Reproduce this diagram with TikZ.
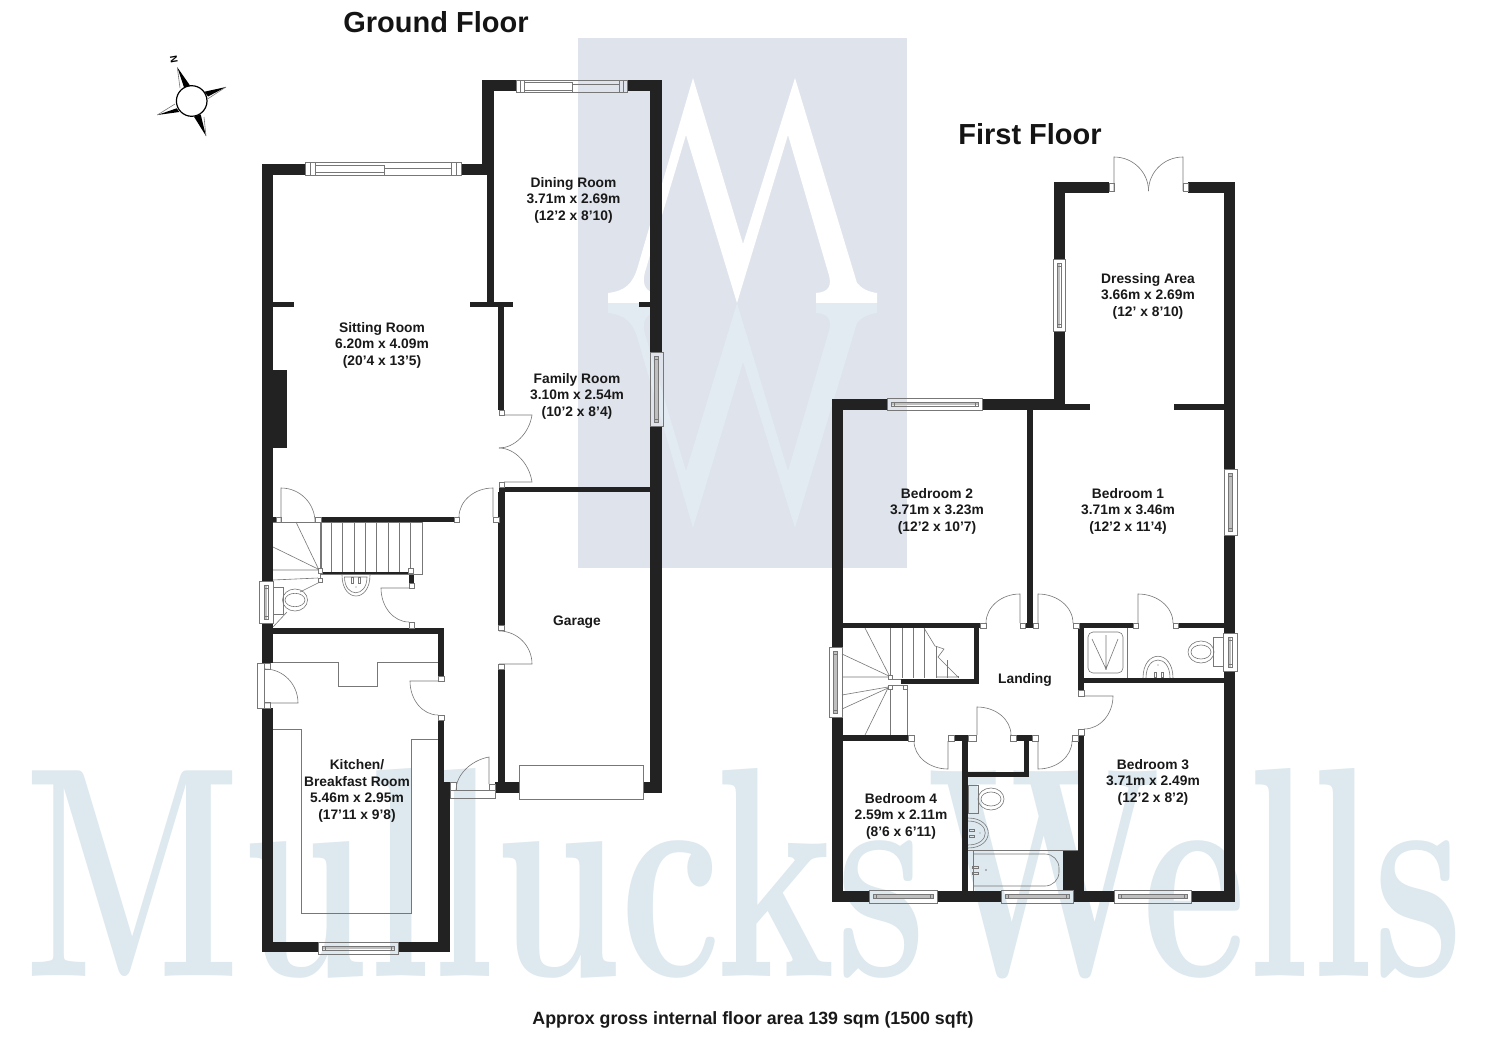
\documentclass[tikz,border=0pt]{standalone}
\usepackage{fontspec}
\usepackage{graphicx}
\setsansfont{Liberation Sans}
\usetikzlibrary{calc}
\definecolor{wallc}{HTML}{222222}
\definecolor{linec}{HTML}{777777}
\definecolor{wmtext}{HTML}{DDE9EF}
\definecolor{wmrect}{HTML}{DFE3EC}
\definecolor{wmw}{HTML}{E1EBF1}
\tikzset{
  thin line/.style={draw=linec,line width=0.6pt},
  postbox/.style={draw=linec,line width=0.5pt,fill=white},
  rlabel/.style={align=center,inner sep=0pt,text=black!90,font=\sffamily\bfseries\fontsize{13.8}{16.5}\selectfont},
  title/.style={inner sep=0pt,text=black!92,font=\sffamily\bfseries\fontsize{29}{31}\selectfont},
}
\newcommand{\wl}[4]{\fill[wallc] (#1,#2) rectangle (#3,#4);}
\newcommand{\pst}[4]{\path[postbox] (#1,#2) rectangle (#3,#4);}
% hinge, leaf end, arc end
\newcommand{\door}[3]{\draw[thin line] (#1) -- (#2) .. controls ($(#2)+0.5523*(#3)-0.5523*(#1)$) and ($(#3)+0.5523*(#2)-0.5523*(#1)$) .. (#3);}
\newcommand{\hwin}[4]{%
  \draw[thin line] (#1,#3) rectangle (#2,#4);
  \fill[black!25] ({#1+4},{(#3+#4)/2-1.2}) rectangle ({#2-4},{(#3+#4)/2+1.2});
  \draw[thin line,line width=0.4pt] ({#1+4},{(#3+#4)/2-2.2}) rectangle ({#2-4},{(#3+#4)/2+1.8});
  \draw[thin line,line width=0.4pt] ({#1+4},{(#3+#4)/2-2.2}) rectangle ({#1+7},{(#3+#4)/2+1.8});
  \draw[thin line,line width=0.4pt] ({#2-7},{(#3+#4)/2-2.2}) rectangle ({#2-4},{(#3+#4)/2+1.8});
}
\newcommand{\vwin}[4]{%
  \draw[thin line] (#1,#3) rectangle (#2,#4);
  \fill[black!25] ({(#1+#2)/2-1.2},{#3+4}) rectangle ({(#1+#2)/2+1.2},{#4-4});
  \draw[thin line,line width=0.4pt] ({(#1+#2)/2-2.2},{#3+4}) rectangle ({(#1+#2)/2+1.8},{#4-4});
  \draw[thin line,line width=0.4pt] ({(#1+#2)/2-2.2},{#3+4}) rectangle ({(#1+#2)/2+1.8},{#3+7});
  \draw[thin line,line width=0.4pt] ({(#1+#2)/2-2.2},{#4-7}) rectangle ({(#1+#2)/2+1.8},{#4-4});
}
\begin{document}
\begin{tikzpicture}[x=1pt,y=-1pt]
\useasboundingbox (0,0) rectangle (1500,1060);
\fill[white] (0,0) rectangle (1500,1060);
% watermark
\fill[wmrect] (578,38) rectangle (907,568);
\fill[white] (608,293) .. controls (625,291) and (633,284) .. (638,266) -- (693,78) -- (743,244) -- (795,78)
  -- (857,283) .. controls (861,288) and (868,292) .. (877,293) -- (877,303) -- (816,303) -- (816,293)
  .. controls (828,292) and (833,287) .. (828,272) -- (788,135) -- (737,303) -- (686,135) -- (645,272)
  .. controls (641,287) and (648,292) .. (655,293) -- (655,303) -- (608,303) -- cycle;
\fill[wmw] (608,313) .. controls (625,315) and (633,322) .. (638,340) -- (693,528) -- (743,362) -- (795,528)
  -- (857,323) .. controls (861,318) and (868,314) .. (877,313) -- (877,303) -- (816,303) -- (816,313)
  .. controls (828,314) and (833,319) .. (828,334) -- (788,471) -- (737,303) -- (686,471) -- (645,334)
  .. controls (641,319) and (648,314) .. (655,313) -- (655,303) -- (608,303) -- cycle;
\node[anchor=base west,inner sep=0pt,outer sep=0pt,text=wmtext] (wmark) at (25,976) {\resizebox{1436pt}{208pt}{\bfseries MullucksWells}};

% ---------- ground floor walls
\wl{262}{164}{273}{581}\wl{262}{623}{273}{663}\wl{262}{708}{273}{952}
\wl{262}{164}{305}{175}\wl{461}{164}{494}{175}
\wl{482}{80}{494}{165}\wl{487}{165}{494}{305}
\wl{470}{302}{513}{307}\wl{498}{307}{504}{410}
\wl{273}{302}{294}{307}
\wl{482}{80}{516}{91}\wl{627}{80}{662}{91}
\wl{650}{80}{662}{352}\wl{650}{426}{662}{793}\wl{639}{302}{650}{307}
\wl{499}{487}{650}{492}\wl{498}{492}{505}{625}\wl{498}{669}{504.5}{782}
\wl{495}{782}{519}{793}\wl{643}{782}{662}{793}
\wl{273}{370}{287}{448}
\wl{273}{517}{276}{522}\wl{321}{517}{454}{522}
\wl{322}{572}{410}{575}\wl{409}{575}{414}{583}
\wl{273}{628}{444}{634}\wl{438}{634}{444}{676}
\wl{438}{720}{444}{782}\wl{438}{782}{450}{952}
\wl{262}{942}{318}{952}\wl{398}{942}{450}{952}
% windows ground
\draw[thin line] (305,162) rectangle (461,175);
\draw[thin line] (310,162) -- (310,175) (315,162) -- (315,175) (451,162) -- (451,175) (456,162) -- (456,175);
\draw[thin line] (315,165) rectangle (384,172) (384,168) rectangle (451,175);
\draw[thin line] (516,80) rectangle (627,92);
\draw[thin line] (520,80) -- (520,92) (524,80) -- (524,92) (619,80) -- (619,92) (623,80) -- (623,92);
\draw[thin line] (524,82) rectangle (572,90) (572,84) rectangle (619,92);
\vwin{650}{663}{352}{426}
\hwin{318}{398}{942}{954}
\vwin{259}{273}{581}{623}
% garage door and entrance
\draw[thin line] (519,765) rectangle (643,799);
\draw[thin line] (450,790) rectangle (495,798);
\pst{450}{782}{456}{790}\pst{489}{784}{495}{790}
\door{489,784}{489,757}{456,790}
% back door of kitchen
\draw[thin line] (257,663) rectangle (264,708);
\pst{264}{663}{270}{669}\pst{264}{702}{270}{708}
\door{265,703}{298,703}{265,669}
% internal doors
\pst{276}{517}{281}{522}\pst{315}{517}{321}{522}
\door{281,522}{281,488}{315,522}
\draw[thin line] (273,522) -- (320,522);
\pst{454}{517}{459}{522}\pst{493}{517}{499}{522}
\door{493,517}{493,488}{459,517}
\pst{499}{410}{504}{415}\pst{499}{482}{504}{487}
\door{504,415}{532,415}{499,448}
\door{504,482}{532,482}{499,448}
\pst{498}{625}{504}{630}\pst{498}{664}{504}{669}
\door{499,664}{532,664}{499,631}
\pst{409}{583}{414}{588}\pst{409}{622}{414}{628}
\door{409,588}{381,588}{409,622}
\pst{438}{676}{444}{681}\pst{438}{715}{444}{720}
\door{438,681}{410,681}{438,715}
% ground stairs
\draw[thin line] (321,522) rectangle (422,574.5);
\foreach \sx in {331.7,342.7,354,365,376.7,388,399,410.7}{\draw[thin line] (\sx,522) -- (\sx,572);}
\draw[thin line] (320,522) -- (320,568);
\draw[thin line] (296,522) -- (318,568) (273,547) -- (318,569) (273,570) -- (318,570) (273,580) -- (318,578);
\pst{318}{568}{322}{573}\pst{318}{578}{322}{582}\pst{408}{568}{413}{573}
\draw[thin line] (320,573) -- (320,578);
% cloakroom
\draw[thin line] (273,587) rectangle (283,614);
\draw[thin line] (295,600) ellipse (12.5 and 11) (295,600) ellipse (10 and 6.7);
\draw[thin line] (320,582) -- (300,592) (287,612) -- (273,627);
\draw[thin line] (342,575) .. controls (342,603) and (370,603) .. (370,575);
\draw[thin line] (344.5,577) .. controls (344.5,598) and (367,598) .. (367,577) -- cycle;
\draw[thin line] (351,577) rectangle (353,583) (358,577) rectangle (360,583);
\fill[linec] (356,587) circle (0.7);
% kitchen fittings
\draw[thin line] (273,662) -- (338,662) -- (338,686) -- (377,686) -- (377,662) -- (438,662);
\draw[thin line] (273,729) -- (301,729) -- (301,913) -- (411,913) -- (411,739) -- (438,739);

% ---------- first floor walls
\wl{1054}{182}{1109}{193}\wl{1188}{182}{1235}{193}
\wl{1054}{182}{1065}{259}\wl{1054}{331}{1065}{410}
\wl{1224}{182}{1235}{469}\wl{1224}{535}{1235}{633}\wl{1224}{671}{1235}{902}
\wl{832}{399}{887}{410}\wl{982}{399}{1065}{410}
\wl{1065}{404}{1090}{410}\wl{1174}{404}{1224}{410}
\wl{832}{399}{842.5}{647}\wl{832}{717}{842.5}{902}
\wl{1027}{410}{1033}{628}\wl{1025}{622.7}{1033}{627.7}
\wl{842}{623}{980}{628}\wl{974}{628}{979}{684}\wl{901}{679}{979}{684}
\wl{842}{735}{908}{741}\wl{954}{735}{968}{741}\wl{962}{741}{968}{902}
\wl{1016}{735}{1032}{741}\wl{1024}{741}{1029}{777}\wl{968}{772}{1029}{777}
\wl{1078}{735}{1084}{891}\wl{1063}{850}{1084}{891}
\wl{1078}{623}{1084}{690}
\wl{1078}{623}{1133}{628}\wl{1178}{623}{1224}{628}
\wl{1084}{678}{1224}{683}
\wl{832}{891}{869}{902}\wl{937}{891}{1001}{902}\wl{1073}{891}{1114}{902}\wl{1191}{891}{1235}{902}
% first floor windows
\hwin{887}{982}{398}{410}
\vwin{1053}{1065}{259}{331}
\vwin{1224}{1237}{469}{535}
\vwin{1223}{1237}{633}{671}
\vwin{829}{842}{647}{717}
\hwin{869}{937}{890}{903}
\hwin{1001}{1073}{890}{903}
\hwin{1114}{1191}{890}{903}
% first floor doors
\pst{1109}{183}{1114}{191}\pst{1183}{183}{1188}{191}
\door{1114,191}{1114,157}{1148.5,191}
\door{1183,191}{1183,157}{1148.5,191}
\pst{1020}{623}{1025}{628}\pst{1033}{623}{1038}{628}
\pst{980}{623}{986}{628}\pst{1073}{623}{1079}{628}
\door{1020,623}{1020,594}{986,623}
\door{1038,623}{1038,594}{1073,623}
\pst{1133}{623}{1138}{628}\pst{1173}{623}{1178}{628}
\door{1138,623}{1138,594}{1173,623}
\pst{908}{735}{914}{741}\pst{948}{735}{954}{741}
\door{948,741}{948,769}{914,741}
\pst{968}{735}{976}{741}\pst{1010}{735}{1016}{741}
\door{977,735}{977,707}{1011,735}
\pst{1032}{735}{1038}{741}\pst{1072}{735}{1078}{741}
\door{1038,741}{1038,769}{1072,741}
\pst{1078}{690}{1084}{696}\pst{1078}{729}{1084}{735}
\door{1084,696}{1113,696}{1084,729}
% first floor stairs
\foreach \sx/\sy in {902/628,913/628,924/628,936/646,947/660,958/676}{\draw[thin line] (\sx,\sy) -- (\sx,678);}
\draw[thin line] (890,628) -- (890,675) (890,688) -- (890,735) (907,685) -- (907,735);
\draw[thin line] (924,628) -- (935,646) -- (944,649) -- (938,657) -- (958,677) -- (936,677);
\draw[thin line] (865,628) -- (889,675) (842,654) -- (889,676) (842,677) -- (889,677)
  (842,695) -- (888,687) (842,709) -- (888,688) (865,735) -- (888,688);
\pst{888}{675}{892}{679}\pst{888}{685}{892}{689}\pst{903}{685}{907}{689}
\draw[thin line] (890,679) -- (901,679) (892,685) -- (903,685);
% shower room
\draw[thin line] (1127,628) -- (1127,678);
\draw[thin line,rounded corners=5pt] (1088,632) rectangle (1123,673);
\draw[thin line] (1106,669) -- (1092,639) (1106,669) -- (1106,635) (1106,669) -- (1118,639);
\fill[linec] (1106,669) circle (0.8);
\draw[thin line] (1143,678) .. controls (1143,649) and (1173,649) .. (1173,678);
\draw[thin line] (1146,678) .. controls (1146,654) and (1170,654) .. (1170,678);
\draw[thin line] (1154,672) rectangle (1156,677) (1161,672) rectangle (1163,677);
\fill[linec] (1158,665) circle (0.7);
\draw[thin line] (1213,637) rectangle (1223,666);
\draw[thin line] (1201,652) ellipse (13 and 11) (1201,652) ellipse (10 and 7);
% bathroom
\draw[thin line] (968,785) rectangle (978,813);
\draw[thin line] (991,799) ellipse (13 and 11) (991,799) ellipse (10 and 7);
\draw[thin line] (968,818) .. controls (995,818) and (995,848) .. (968,848);
\draw[thin line] (968,821) .. controls (991,821) and (991,845) .. (968,845);
\draw[thin line] (969,829) rectangle (974,831) (969,835) rectangle (974,837);
\fill[linec] (980,833) circle (0.7);
\draw[thin line] (968,850) -- (1078,850);
\draw[thin line] (973,850) -- (973,891);
\draw[thin line,rounded corners=14pt] (973,854) -- (1059,854) -- (1059,886) -- (973,886);
\draw[thin line] (973,854) -- (973,886);
\draw[thin line] (972,866) rectangle (978,868) (972,872) rectangle (978,874);
\fill[linec] (986,870) circle (0.8);

% ---------- compass
\draw[black,line width=1.2pt] (191.7,101) circle (15.3);
\fill[black] (177.3,67.3) -- (190,85.5) -- (184,87.5) -- cycle;
\fill[black] (226,87) -- (204.5,91.7) -- (208,96.5) -- cycle;
\fill[black] (206,136) -- (194,116.7) -- (200.7,114.5) -- cycle;
\fill[black] (157.3,115) -- (176.7,108.3) -- (179.3,112) -- cycle;
\draw[thin line] (177.3,67.3) -- (180,88) (226,87) -- (207.5,99) (206,136) -- (204,117) (157.3,115) -- (175,104);
\node[inner sep=0pt,rotate=-80,font=\sffamily\bfseries\fontsize{10}{10}\selectfont] (north) at (174,59) {N};

% ---------- text
\node[title] (gf) at (436,22) {Ground Floor};
\node[title] (ff) at (1030,134) {First Floor};
\node[rlabel] (dining) at (573.5,200) {Dining Room\\3.71m x 2.69m\\(12’2 x 8’10)};
\node[rlabel] (sitting) at (382,345) {Sitting Room\\6.20m x 4.09m\\(20’4 x 13’5)};
\node[rlabel] (family) at (577,396) {Family Room\\3.10m x 2.54m\\(10’2 x 8’4)};
\node[rlabel] (garage) at (577,622) {Garage};
\node[rlabel] (kitchen) at (357,791) {Kitchen/\\Breakfast Room\\5.46m x 2.95m\\(17’11 x 9’8)};
\node[rlabel] (dressing) at (1148,296) {Dressing Area\\3.66m x 2.69m\\(12’ x 8’10)};
\node[rlabel] (bed2) at (937,511) {Bedroom 2\\3.71m x 3.23m\\(12’2 x 10’7)};
\node[rlabel] (bed1) at (1128,511) {Bedroom 1\\3.71m x 3.46m\\(12’2 x 11’4)};
\node[rlabel] (landing) at (1025,680) {Landing};
\node[rlabel] (bed3) at (1153,782) {Bedroom 3\\3.71m x 2.49m\\(12’2 x 8’2)};
\node[rlabel] (bed4) at (901,816) {Bedroom 4\\2.59m x 2.11m\\(8’6 x 6’11)};
\node[inner sep=0pt,text=black!90,font=\sffamily\bfseries\fontsize{17.8}{20}\selectfont] (area) at (753,1020) {Approx gross internal floor area 139 sqm (1500 sqft)};
\end{tikzpicture}
\end{document}
